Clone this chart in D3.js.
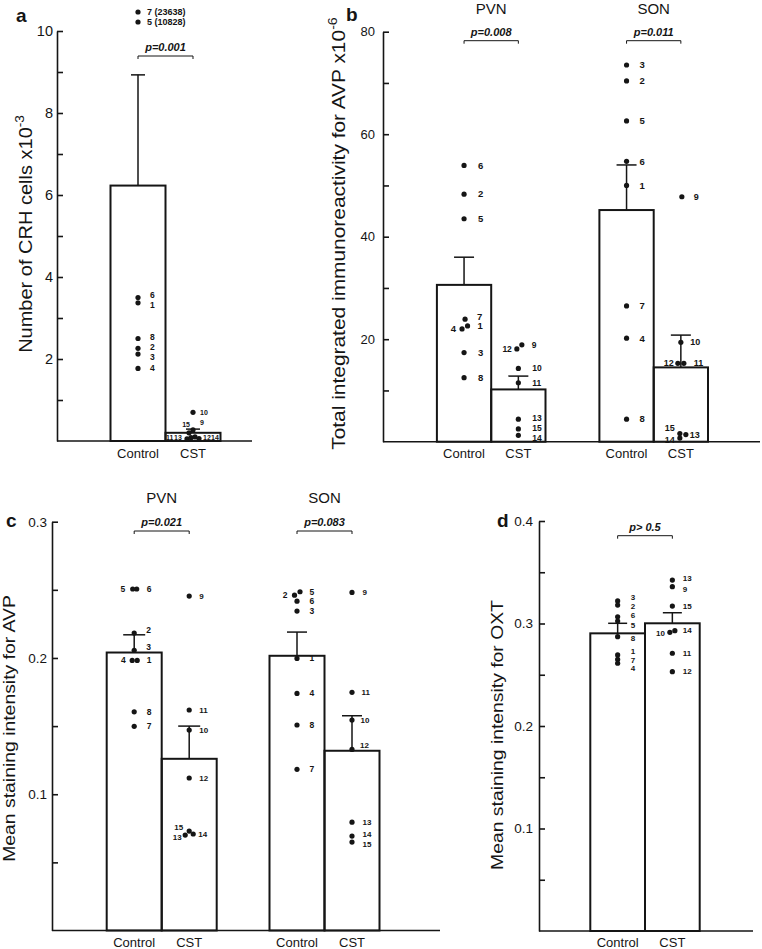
<!DOCTYPE html>
<html><head><meta charset="utf-8">
<script src="https://cdn.jsdelivr.net/npm/d3@7"></script>
<style>
body{margin:0;background:#fff}
svg{display:block}
text{font-family:"Liberation Sans",Arial,Helvetica,sans-serif;fill:#151515}
</style>
</head><body>
<svg id="chart" width="762" height="949"></svg>
<script>
// ===================== DATA =====================
const conditions = ["Control", "CST"];
const regions = ["PVN", "SON"];

// ---- panel a : Number of CRH cells x10^-3 ----
const aMeans = [6.23, 0.2];
const aErrTop = [8.93, 0.29];
const aTickValues = [1, 2, 3, 4, 5, 6, 7, 8, 9, 10];
const aTickLabels = ["", "2", "", "4", "", "6", "", "8", "", "10"];
const aCtrlIds = ["7", "5", "6", "1", "8", "2", "3", "4"];
const aCtrlVals = [23.638, 10.828, 3.5, 3.37, 2.5, 2.26, 2.12, 1.77];
const aCstIds = ["10", "9", "15", "11", "13", "12", "14"];
const aCstVals = [0.7, 0.27, 0.2, 0.05, 0.08, 0.1, 0.06];
const aPText = "p=0.001";

// ---- panel b : Total integrated immunoreactivity for AVP x10^-6 ----
const bPvnMeans = [30.6, 10.2];
const bPvnErrTop = [36.0, 12.8];
const bSonMeans = [45.2, 14.5];
const bSonErrTop = [54.0, 20.8];
const bTickValues = [10, 20, 30, 40, 50, 60, 70, 80];
const bTickLabels = ["", "20", "", "40", "", "60", "", "80"];
const bPvnCtrlIds = ["6", "2", "5", "7", "1", "4", "3", "8"];
const bPvnCtrlVals = [53.9, 48.3, 43.5, 23.9, 22.6, 22.0, 17.4, 12.5];
const bPvnCstIds = ["9", "12", "10", "11", "13", "15", "14"];
const bPvnCstVals = [18.9, 18.1, 14.3, 11.5, 4.4, 2.5, 1.25];
const bSonCtrlIds = ["3", "2", "5", "6", "1", "7", "4", "8"];
const bSonCtrlVals = [73.5, 70.4, 62.6, 54.7, 50.0, 26.5, 20.2, 4.4];
const bSonCstIds = ["9", "10", "12", "11", "15", "13", "14"];
const bSonCstVals = [47.8, 19.4, 15.3, 15.3, 1.6, 1.4, 0.7];
const bPTexts = ["p=0.008", "p=0.011"];

// ---- panel c : Mean staining intensity for AVP ----
const cPvnMeans = [0.204, 0.126];
const cPvnErrTop = [0.217, 0.150];
const cSonMeans = [0.2016, 0.1319];
const cSonErrTop = [0.219, 0.1576];
const cTickValues = [0.05, 0.1, 0.15, 0.2, 0.25, 0.3];
const cTickLabels = ["", "0.1", "", "0.2", "", "0.3"];
const cPvnCtrlIds = ["5", "6", "2", "3", "4", "1", "8", "7"];
const cPvnCtrlVals = [0.2506, 0.2506, 0.2183, 0.2056, 0.1982, 0.1982, 0.1605, 0.1498];
const cPvnCstIds = ["9", "11", "10", "12", "15", "13", "14"];
const cPvnCstVals = [0.2454, 0.1618, 0.1471, 0.1119, 0.073, 0.070, 0.0708];
const cSonCtrlIds = ["5", "2", "6", "3", "1", "4", "8", "7"];
const cSonCtrlVals = [0.2486, 0.2461, 0.2417, 0.2344, 0.1997, 0.174, 0.1508, 0.1183];
const cSonCstIds = ["9", "11", "10", "12", "13", "14", "15"];
const cSonCstVals = [0.2481, 0.1748, 0.1544, 0.1329, 0.0795, 0.0693, 0.0649];
const cPTexts = ["p=0.021", "p=0.083"];

// ---- panel d : Mean staining intensity for OXT ----
const dMeans = [0.2904, 0.3002];
const dErrTop = [0.3002, 0.3105];
const dTickValues = [0.05, 0.1, 0.15, 0.2, 0.25, 0.3, 0.35, 0.4];
const dTickLabels = ["", "0.1", "", "0.2", "", "0.3", "", "0.4"];
const dCtrlIds = ["3", "2", "6", "5", "8", "1", "7", "4"];
const dCtrlVals = [0.322, 0.318, 0.3066, 0.3024, 0.2871, 0.2693, 0.265, 0.2612];
const dCstIds = ["13", "9", "15", "14", "10", "11", "12"];
const dCstVals = [0.3424, 0.3359, 0.317, 0.293, 0.2914, 0.271, 0.253];
const dPText = "p> 0.5";

// ===================== DRAWING =====================
const INK = "#151515";
const svg = d3.select("#chart");

function yAxis(x, y, vals, labels, fs, pad) {
  const ax = d3.axisLeft(y).tickValues(vals).tickSizeInner(-6).tickSizeOuter(0)
    .tickPadding(pad).tickFormat((d, i) => labels[i]);
  const g = svg.append("g").attr("transform", `translate(${x},0)`).call(ax);
  g.attr("font-family", null).attr("font-size", null);
  g.selectAll("path,line").attr("stroke", INK).attr("stroke-width", 1.6);
  g.selectAll("text").attr("font-size", fs).attr("fill", INK);
  return g;
}
function baseline(x0, x1, yv) {
  svg.append("line").attr("x1", x0).attr("x2", x1).attr("y1", yv).attr("y2", yv)
    .attr("stroke", INK).attr("stroke-width", 1.6);
}
function bars(center, sub, y, means, errTop, capHalf) {
  const data = conditions.map((c, i) => ({ c, m: means[i], e: errTop[i] }));
  const g = svg.append("g");
  g.selectAll("line.stem").data(data).join("line").attr("class", "stem")
    .attr("x1", d => center + sub(d.c) + sub.bandwidth() / 2)
    .attr("x2", d => center + sub(d.c) + sub.bandwidth() / 2)
    .attr("y1", d => y(d.m)).attr("y2", d => y(d.e))
    .attr("stroke", INK).attr("stroke-width", 1.5);
  g.selectAll("line.cap").data(data).join("line").attr("class", "cap")
    .attr("x1", d => center + sub(d.c) + sub.bandwidth() / 2 - capHalf)
    .attr("x2", d => center + sub(d.c) + sub.bandwidth() / 2 + capHalf)
    .attr("y1", d => y(d.e)).attr("y2", d => y(d.e))
    .attr("stroke", INK).attr("stroke-width", 1.5);
  g.selectAll("rect").data(data).join("rect")
    .attr("x", d => center + sub(d.c)).attr("width", sub.bandwidth())
    .attr("y", d => y(d.m)).attr("height", d => y(0) - y(d.m))
    .attr("fill", "none").attr("stroke", INK).attr("stroke-width", 2);
}
function points(cx, y, ids, vals, layout, fs, gap, ymax) {
  const data = ids.map((id, i) => {
    const L = layout[id] || {};
    return { id, v: vals[i], dx: L.dx || 0, lx: L.lx !== undefined ? L.lx : gap, ly: L.ly || 0, a: L.a || "start" };
  }).filter(d => ymax === undefined || d.v <= ymax);
  const g = svg.append("g");
  g.selectAll("circle").data(data).join("circle")
    .attr("cx", d => cx + d.dx).attr("cy", d => y(d.v)).attr("r", 2.6).attr("fill", INK);
  g.selectAll("text").data(data).join("text")
    .attr("x", d => cx + d.dx + d.lx).attr("y", d => y(d.v) + d.ly).attr("dy", "0.35em")
    .attr("text-anchor", d => d.a).attr("font-size", fs).attr("font-weight", "bold").text(d => d.id);
}
function pBracket(x1, x2, yl, text, fs) {
  svg.append("path").attr("d", `M${x1},${yl + 3}V${yl}H${x2}V${yl + 3}`)
    .attr("fill", "none").attr("stroke", INK).attr("stroke-width", 1);
  svg.append("text").attr("x", (x1 + x2) / 2).attr("y", yl - 5).attr("text-anchor", "middle")
    .attr("font-size", fs).attr("font-style", "italic").attr("font-weight", "bold").text(text);
}
function yTitle(x, yc, main, sup, fs, span) {
  const t = svg.append("text").attr("text-anchor", "middle").attr("font-size", fs);
  t.append("tspan").text(main);
  t.append("tspan").attr("dy", -fs * 0.42).attr("font-size", fs * 0.68).text(sup);
  const len = t.node().getComputedTextLength();
  const s = span ? span / len : 1;
  t.attr("transform", `translate(${x},${yc}) rotate(-90) scale(${s},1)`);
}
function catLabels(center, sub, yb, fs) {
  svg.append("g").selectAll("text").data(conditions).join("text")
    .attr("x", d => center + sub(d) + sub.bandwidth() / 2).attr("y", yb)
    .attr("text-anchor", "middle").attr("font-size", fs).text(d => d);
}
function letter(t, x, yb, fs) {
  svg.append("text").attr("x", x).attr("y", yb).attr("font-size", fs).attr("font-weight", "bold").text(t);
}
function title(t, x, yb, fs) {
  svg.append("text").attr("x", x).attr("y", yb).attr("text-anchor", "middle").attr("font-size", fs).text(t);
}

// ---------- panel a ----------
{
  const y = d3.scaleLinear().domain([0, 10]).range([441, 31]);
  const sub = d3.scaleBand().domain(conditions).range([-55, 55]);
  const cx = 165.5;
  const xc = c => cx + sub(c) + sub.bandwidth() / 2;
  yAxis(57, y, aTickValues, aTickLabels, 14.5, 4);
  baseline(57, 252, y(0));
  bars(cx, sub, y, aMeans, aErrTop, 7);
  points(xc("Control"), y, aCtrlIds, aCtrlVals,
    { "6": { ly: -2 }, "1": { ly: 2 }, "8": { ly: -1.5 }, "2": { ly: -1 }, "3": { ly: 2.5 } }, 8.5, 12, 10);
  // off-scale animals listed above the axis
  const off = aCtrlIds.map((id, i) => ({ id, v: aCtrlVals[i] })).filter(d => d.v > 10);
  const og = svg.append("g");
  og.selectAll("circle").data(off).join("circle")
    .attr("cx", xc("Control")).attr("cy", (d, i) => y(10) - 19 + i * 10).attr("r", 2.6).attr("fill", INK);
  og.selectAll("text").data(off).join("text")
    .attr("x", xc("Control") + 9).attr("y", (d, i) => y(10) - 19 + i * 10).attr("dy", "0.35em")
    .attr("font-size", 9).attr("font-weight", "bold")
    .text(d => `${d.id} (${Math.round(d.v * 1000)})`);
  points(xc("CST"), y, aCstIds, aCstVals,
    { "10": { lx: 7 }, "9": { lx: 7, ly: -7 }, "15": { dx: -4, lx: 1, ly: -8, a: "end" },
      "11": { dx: -6, lx: -21, ly: -1 }, "13": { dx: -2, lx: -17, ly: -0.5 },
      "12": { dx: 2, lx: 8, ly: 0.5 }, "14": { dx: 6, lx: 12, ly: -1 } }, 7, 7, 10);
  pBracket(xc("Control"), xc("CST"), 56, aPText, 11);
  catLabels(cx, sub, 458, 13);
  yTitle(32, 234, "Number of CRH cells x10", "-3", 18, 238);
  letter("a", 16, 22, 19);
}

// ---------- panel b ----------
{
  const y = d3.scaleLinear().domain([0, 80]).range([441.7, 31.7]);
  const grp = d3.scalePoint().domain(regions).range([491.2, 653.7]);
  const sub = d3.scaleBand().domain(conditions).range([-54.3, 54.3]);
  const xc = (r, c) => grp(r) + sub(c) + sub.bandwidth() / 2;
  yAxis(383, y, bTickValues, bTickLabels, 13, 8);
  baseline(383, 760, y(0));
  bars(grp("PVN"), sub, y, bPvnMeans, bPvnErrTop, 10);
  bars(grp("SON"), sub, y, bSonMeans, bSonErrTop, 10);
  points(xc("PVN", "Control"), y, bPvnCtrlIds, bPvnCtrlVals,
    { "7": { dx: 1, lx: 12, ly: -2.5 }, "1": { dx: 3.5, lx: 10 }, "4": { dx: -2, lx: -6, a: "end" } }, 9.5, 14);
  points(xc("PVN", "CST"), y, bPvnCstIds, bPvnCstVals,
    { "9": { dx: 3.5, lx: 10 }, "12": { dx: -1.5, lx: -5, a: "end", ly: 0.5 },
      "13": { ly: -1.5 }, "15": { ly: -0.5 }, "14": { ly: 3 } }, 8.5, 14);
  points(xc("SON", "Control"), y, bSonCtrlIds, bSonCtrlVals, {}, 9.5, 13);
  points(xc("SON", "CST"), y, bSonCstIds, bSonCstVals,
    { "9": { dx: 1, lx: 12 }, "10": { lx: 9.5 }, "12": { dx: -3, lx: -4, a: "end" }, "11": { dx: 3, lx: 10 },
      "15": { dx: -1, lx: -5, a: "end", ly: -6 }, "13": { dx: 5, lx: 4 }, "14": { dx: -1, lx: -5, a: "end", ly: 2 } }, 9, 13);
  regions.forEach((r, i) => {
    title(r, grp(r), 14, 15);
    pBracket(xc(r, "Control"), xc(r, "CST"), 40.7, bPTexts[i], 11);
    catLabels(grp(r), sub, 458, 13);
  });
  yTitle(345, 233.5, "Total integrated immunoreactivity for AVP x10", "-6", 18, 433);
  letter("b", 346, 21, 19);
}

// ---------- panel c ----------
{
  const y = d3.scaleLinear().domain([0, 0.3]).range([930.5, 521.7]);
  const grp = d3.scalePoint().domain(regions).range([161.7, 324.5]);
  const sub = d3.scaleBand().domain(conditions).range([-55, 55]);
  const xc = (r, c) => grp(r) + sub(c) + sub.bandwidth() / 2;
  yAxis(52, y, cTickValues, cTickLabels, 13.5, 5);
  baseline(52, 440, y(0));
  bars(grp("PVN"), sub, y, cPvnMeans, cPvnErrTop, 11);
  bars(grp("SON"), sub, y, cSonMeans, cSonErrTop, 10);
  points(xc("PVN", "Control"), y, cPvnCtrlIds, cPvnCtrlVals,
    { "5": { dx: -1.5, lx: -7.5, a: "end" }, "6": { dx: 2.5, lx: 10 }, "2": { lx: 12, ly: -3.5 },
      "3": { lx: 12, ly: -3.5 }, "4": { dx: -2, lx: -6.5, a: "end" }, "1": { dx: 3, lx: 9.5 } }, 8.5, 12.5);
  points(xc("PVN", "CST"), y, cPvnCstIds, cPvnCstVals,
    { "15": { lx: -6, a: "end", ly: -4 }, "13": { dx: -4, lx: -3.5, a: "end", ly: 2.5 }, "14": { dx: 4, lx: 5 } }, 8, 10);
  points(xc("SON", "Control"), y, cSonCtrlIds, cSonCtrlVals,
    { "5": { dx: 3, lx: 9.5 }, "2": { dx: -2.5, lx: -7, a: "end" } }, 8.5, 12.5);
  points(xc("SON", "CST"), y, cSonCstIds, cSonCstVals,
    { "12": { lx: 8, ly: -4.5 }, "10": { lx: 8.5 }, "11": { lx: 9.5 }, "14": { ly: -2 }, "15": { ly: 2.5 } }, 8, 10.5);
  regions.forEach((r, i) => {
    title(r, grp(r), 503, 15);
    pBracket(xc(r, "Control"), xc(r, "CST"), 531, cPTexts[i], 11);
    catLabels(grp(r), sub, 947, 13);
  });
  yTitle(14.5, 728.5, "Mean staining intensity for AVP", "", 17, 267);
  letter("c", 6, 527, 19);
}

// ---------- panel d ----------
{
  const y = d3.scaleLinear().domain([0, 0.4]).range([931, 521]);
  const sub = d3.scaleBand().domain(conditions).range([-54.7, 54.7]);
  const cx = 645;
  const xc = c => cx + sub(c) + sub.bandwidth() / 2;
  yAxis(539, y, dTickValues, dTickLabels, 13.5, 6);
  baseline(539, 753, y(0));
  bars(cx, sub, y, dMeans, dErrTop, 9.5);
  points(xc("Control"), y, dCtrlIds, dCtrlVals,
    { "3": { ly: -3.5 }, "2": { ly: 1.5 }, "6": { ly: -2 }, "5": { ly: 4 }, "8": { ly: 1 },
      "1": { ly: -3.5 }, "7": { ly: 0.5 }, "4": { ly: 4.5 } }, 8, 13);
  points(xc("CST"), y, dCstIds, dCstVals,
    { "13": { ly: -2 }, "9": { ly: 2 }, "14": { dx: 2.5, lx: 8 }, "10": { dx: -2.5, lx: -5, a: "end", ly: 0.5 } }, 8, 10.5);
  pBracket(xc("Control"), xc("CST"), 535.7, dPText, 11);
  catLabels(cx, sub, 947, 13);
  yTitle(503, 735, "Mean staining intensity for OXT", "", 17, 270);
  letter("d", 497, 527, 19);
}
</script>
</body></html>
